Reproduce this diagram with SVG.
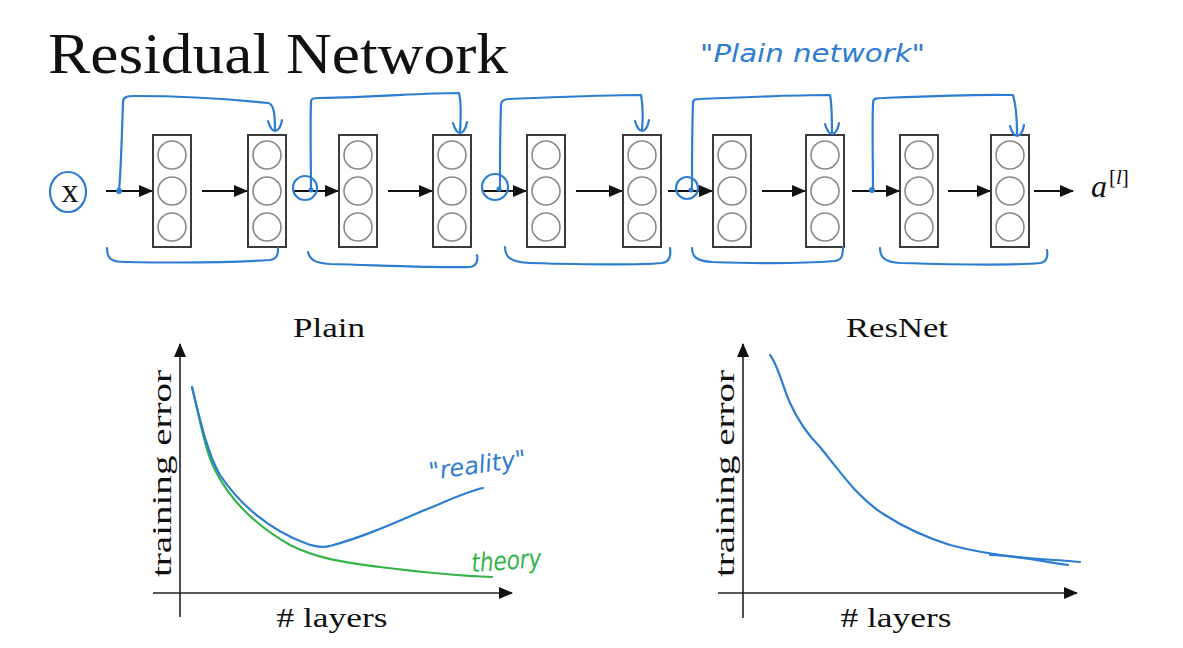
<svg xmlns="http://www.w3.org/2000/svg" width="1183" height="648" viewBox="0 0 1183 648">
<defs>
<marker id="ah" markerUnits="userSpaceOnUse" markerWidth="14" markerHeight="12" refX="13" refY="6" orient="auto">
<path d="M0,0 L14,6 L0,12 z" fill="#111"/>
</marker>
<style>
.box{fill:#fff;stroke:#3a3a3a;stroke-width:2}
.cir{fill:#fff;stroke:#8a8a8a;stroke-width:1.6}
.arr{stroke:#111;stroke-width:2;fill:none;marker-end:url(#ah)}
.ax{stroke:#222;stroke-width:1.6;fill:none;marker-end:url(#ah)}
.blue{stroke:#2e7dd1;stroke-width:2.2;fill:none;stroke-linecap:round;stroke-linejoin:round}
.green{stroke:#34b34a;stroke-width:2.2;fill:none;stroke-linecap:round;stroke-linejoin:round}
.serif{font-family:"Liberation Serif","DejaVu Serif",serif;fill:#111}
.hand{font-family:"DejaVu Sans","Liberation Sans",sans-serif;font-style:italic;font-weight:300}
</style>
</defs>
<rect width="1183" height="648" fill="#fff"/>

<text class="serif" x="48" y="73" font-size="58" textLength="460" lengthAdjust="spacingAndGlyphs">Residual Network</text>
<text class="hand" x="700" y="62" font-size="24" fill="#2e7dd1" textLength="225" lengthAdjust="spacingAndGlyphs">"Plain   network"</text>

<g id="input-x">
<ellipse cx="68" cy="192" rx="18" ry="20" class="blue"/>
<text class="serif" x="70" y="202" font-size="34" text-anchor="middle">x</text>
</g>

<g id="layer1"><rect class="box" x="153" y="135" width="38" height="112"/><circle class="cir" cx="172" cy="155" r="14"/><circle class="cir" cx="172" cy="191" r="14"/><circle class="cir" cx="172" cy="227" r="14"/></g>
<g id="layer2"><rect class="box" x="248" y="135" width="38" height="112"/><circle class="cir" cx="267" cy="155" r="14"/><circle class="cir" cx="267" cy="191" r="14"/><circle class="cir" cx="267" cy="227" r="14"/></g>
<g id="layer3"><rect class="box" x="339" y="135" width="38" height="112"/><circle class="cir" cx="358" cy="155" r="14"/><circle class="cir" cx="358" cy="191" r="14"/><circle class="cir" cx="358" cy="227" r="14"/></g>
<g id="layer4"><rect class="box" x="433" y="135" width="38" height="112"/><circle class="cir" cx="452" cy="155" r="14"/><circle class="cir" cx="452" cy="191" r="14"/><circle class="cir" cx="452" cy="227" r="14"/></g>
<g id="layer5"><rect class="box" x="527" y="135" width="38" height="112"/><circle class="cir" cx="546" cy="155" r="14"/><circle class="cir" cx="546" cy="191" r="14"/><circle class="cir" cx="546" cy="227" r="14"/></g>
<g id="layer6"><rect class="box" x="623" y="135" width="38" height="112"/><circle class="cir" cx="642" cy="155" r="14"/><circle class="cir" cx="642" cy="191" r="14"/><circle class="cir" cx="642" cy="227" r="14"/></g>
<g id="layer7"><rect class="box" x="713" y="135" width="38" height="112"/><circle class="cir" cx="732" cy="155" r="14"/><circle class="cir" cx="732" cy="191" r="14"/><circle class="cir" cx="732" cy="227" r="14"/></g>
<g id="layer8"><rect class="box" x="806" y="135" width="38" height="112"/><circle class="cir" cx="825" cy="155" r="14"/><circle class="cir" cx="825" cy="191" r="14"/><circle class="cir" cx="825" cy="227" r="14"/></g>
<g id="layer9"><rect class="box" x="900" y="135" width="38" height="112"/><circle class="cir" cx="919" cy="155" r="14"/><circle class="cir" cx="919" cy="191" r="14"/><circle class="cir" cx="919" cy="227" r="14"/></g>
<g id="layer10"><rect class="box" x="991" y="135" width="38" height="112"/><circle class="cir" cx="1010" cy="155" r="14"/><circle class="cir" cx="1010" cy="191" r="14"/><circle class="cir" cx="1010" cy="227" r="14"/></g>

<g id="output">
<text class="serif" x="1091" y="197" font-size="32" font-style="italic">a</text>
<text class="serif" x="1109" y="184" font-size="21">[<tspan font-style="italic">l</tspan>]</text>
</g>

<g id="connectors">
<path class="arr" d="M106,191 H152"/>
<path class="arr" d="M202,191 H247"/>
<path class="arr" d="M293,191 H338"/>
<path class="arr" d="M388,191 H432"/>
<path class="arr" d="M482,191 H526"/>
<path class="arr" d="M576,191 H622"/>
<path class="arr" d="M668,191 H712"/>
<path class="arr" d="M762,191 H805"/>
<path class="arr" d="M852,191 H899"/>
<path class="arr" d="M948,191 H990"/>
<path class="arr" d="M1034,191 H1073"/>

<circle cx="119" cy="191" r="3" fill="#2e7dd1"/>
<path class="blue" d="M119,191 C121,170 122,130 123,103 C123,97 126,96 135,96 C180,96 230,99 268,103 C273,104 275,110 275,130"/>
<path class="blue" d="M268,121 C270,128 273,131 275,131 C278,131 281,127 282,120"/>

<ellipse class="blue" cx="305" cy="188" rx="12" ry="12"/>
<circle cx="311" cy="190" r="2.5" fill="#2e7dd1"/>
<path class="blue" d="M311,190 C311,160 310,130 311,102 C311,98 314,98 320,98 C380,97 420,93 459,93 C461,100 461,115 460,132"/>
<path class="blue" d="M453,123 C455,130 458,133 460,133 C463,133 466,129 467,122"/>

<ellipse class="blue" cx="495" cy="187" rx="13" ry="13"/>
<circle cx="499" cy="189" r="2.5" fill="#2e7dd1"/>
<path class="blue" d="M500,190 C500,160 500,130 501,105 C501,100 505,99 510,99 C560,97 600,95 641,95 C643,105 643,118 642,130"/>
<path class="blue" d="M635,121 C637,128 640,131 642,131 C645,131 648,127 649,120"/>

<ellipse class="blue" cx="687" cy="188" rx="11" ry="11"/>
<circle cx="691" cy="190" r="2.5" fill="#2e7dd1"/>
<path class="blue" d="M692,190 C692,160 692,130 693,103 C693,99 696,99 700,99 C750,97 790,95 830,95 C832,105 832,120 832,133"/>
<path class="blue" d="M825,124 C827,131 830,134 832,134 C835,134 838,130 839,123"/>

<circle cx="872" cy="190" r="3" fill="#2e7dd1"/>
<path class="blue" d="M873,190 C873,160 872,130 873,103 C873,98 877,98 882,98 C930,96 975,94 1013,95 C1016,105 1017,120 1017,135"/>
<path class="blue" d="M1010,126 C1012,133 1015,136 1017,136 C1020,136 1023,132 1024,125"/>

<path class="blue" d="M107,248 C107,258 110,262 125,262 C180,263 240,262 270,260 C277,259 278,255 278,248"/>
<path class="blue" d="M308,252 C310,260 315,263 330,264 C400,266 450,268 470,267 C477,266 478,260 477,255"/>
<path class="blue" d="M505,247 C505,257 510,262 530,263 C600,265 640,265 662,263 C670,262 671,255 670,248"/>
<path class="blue" d="M692,248 C692,257 697,261 712,262 C770,264 810,263 835,261 C842,260 843,255 843,247"/>
<path class="blue" d="M880,248 C880,258 885,262 900,263 C970,265 1020,265 1040,263 C1047,262 1048,256 1047,250"/>
</g>

<g id="plot-plain">
<text class="serif" x="329" y="337" font-size="27" text-anchor="middle" textLength="72" lengthAdjust="spacingAndGlyphs">Plain</text>
<path class="ax" d="M180,617 V344"/>
<path class="ax" d="M153,593 H512"/>
<text class="serif" font-size="27" transform="translate(171,577) rotate(-90)" textLength="207" lengthAdjust="spacingAndGlyphs">training error</text>
<text class="serif" x="332" y="627" font-size="27" text-anchor="middle" textLength="111" lengthAdjust="spacingAndGlyphs"># layers</text>
<path class="green" d="M192,387 C200,420 205,450 215,470 C230,500 255,525 290,545 C320,560 350,563 380,567 C420,572 460,576 492,577"/>
<path class="blue" d="M192,387 C200,420 208,455 220,475 C240,505 270,530 305,543 C315,547 322,548 330,546 C360,538 390,525 420,512 C445,502 465,492 483,488"/>
<text class="hand" x="430" y="480" font-size="24" fill="#2e7dd1" transform="rotate(-8 430 480)" textLength="98" lengthAdjust="spacingAndGlyphs">"reality"</text>
<text class="hand" x="472" y="572" font-size="26" fill="#34b34a" transform="rotate(-4 472 572)" textLength="70" lengthAdjust="spacingAndGlyphs">theory</text>
</g>

<g id="plot-resnet">
<text class="serif" x="897" y="337" font-size="27" text-anchor="middle" textLength="102" lengthAdjust="spacingAndGlyphs">ResNet</text>
<path class="ax" d="M743,618 V344"/>
<path class="ax" d="M718,593 H1077"/>
<text class="serif" font-size="27" transform="translate(734,577) rotate(-90)" textLength="207" lengthAdjust="spacingAndGlyphs">training error</text>
<text class="serif" x="896" y="627" font-size="27" text-anchor="middle" textLength="111" lengthAdjust="spacingAndGlyphs"># layers</text>
<path class="blue" d="M770,355 C778,365 782,385 790,403 C800,425 810,437 820,447 C845,478 860,500 885,515 C905,528 925,537 950,545 C980,553 1010,557 1040,559 C1055,560 1070,561 1080,562"/>
<path class="blue" stroke-width="1.6" d="M990,555 C1020,556 1040,561 1068,565"/>
</g>
</svg>
